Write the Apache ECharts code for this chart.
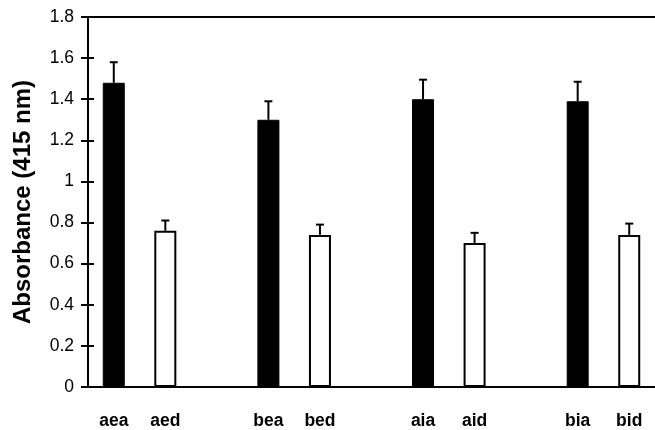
<!DOCTYPE html>
<html>
<head>
<meta charset="utf-8">
<script src="https://cdn.jsdelivr.net/npm/echarts@6/dist/echarts.min.js"></script>
<style>
  html, body { margin: 0; padding: 0; background: #fff; }
  #chart { width: 655px; height: 430px; }
</style>
</head>
<body>
<div id="chart"></div>
<script>
// Sample groups; blank slots separate the pairs
const categories = ['aea', 'aed', ' ', 'bea', 'bed', '  ', 'aia', 'aid', '   ', 'bia', 'bid'];
// Mean absorbance at 415 nm (null = empty slot)
const absorbance = [1.48, 0.76, null, 1.30, 0.74, null, 1.40, 0.70, null, 1.39, 0.74];
// Upper error (standard deviation)
const errorUp = [0.10, 0.05, null, 0.09, 0.05, null, 0.095, 0.05, null, 0.095, 0.055];
// Which bars are filled (true) or open (false)
const filled = [true, false, null, true, false, null, true, false, null, true, false];
const yTicks = { min: 0, max: 1.8, step: 0.2 };

const FONT = '"Liberation Sans", Arial, sans-serif';

const barData = absorbance.map((v, i) => {
  if (v === null) return null;
  return {
    value: v,
    itemStyle: filled[i]
      ? { color: '#000', borderColor: '#000', borderWidth: 1 }
      : { color: '#fff', borderColor: '#000', borderWidth: 2 }
  };
});

const errData = absorbance.map((v, i) => (v === null ? null : [i, v, v + errorUp[i]]))
  .filter(d => d !== null);

const chart = echarts.init(document.getElementById('chart'), null, { renderer: 'canvas' });

chart.setOption({
  backgroundColor: '#fff',
  animation: false,
  grid: { left: 88, top: 17, width: 575, height: 372, containLabel: false },
  xAxis: [
    {
      type: 'category',
      data: categories,
      position: 'bottom',
      axisLine: { show: true, onZero: false, lineStyle: { color: '#000', width: 2 } },
      axisTick: { show: false },
      axisLabel: { color: '#000', fontFamily: FONT, fontWeight: 'bold', fontSize: 17.5, margin: 25 }
    },
    {
      // frame line along the top of the plot
      type: 'category',
      data: categories,
      position: 'top',
      axisLine: { show: true, onZero: false, lineStyle: { color: '#000', width: 2 } },
      axisTick: { show: false },
      axisLabel: { show: false }
    }
  ],
  yAxis: [
    {
      type: 'value',
      min: yTicks.min, max: yTicks.max, interval: yTicks.step,
      name: 'Absorbance (415 nm)',
      nameLocation: 'middle',
      nameGap: 53,
      nameTextStyle: { color: '#000', fontFamily: FONT, fontWeight: 'bold', fontSize: 24 },
      axisLine: { show: true, lineStyle: { color: '#000', width: 2 } },
      axisTick: { show: true, inside: false, length: 7, lineStyle: { color: '#000', width: 2 } },
      axisLabel: { color: '#000', fontFamily: FONT, fontSize: 17.5, margin: 14 },
      splitLine: { show: false }
    },
    {
      // inner half of the crossing tick marks
      type: 'value',
      position: 'left',
      min: yTicks.min, max: yTicks.max, interval: yTicks.step,
      axisLine: { show: false },
      axisTick: { show: true, inside: true, length: 6, lineStyle: { color: '#000', width: 2 } },
      axisLabel: { show: false },
      splitLine: { show: false }
    }
  ],
  series: [
    {
      type: 'bar',
      xAxisIndex: 0,
      yAxisIndex: 0,
      barWidth: 22,
      data: barData,
      z: 2
    },
    {
      type: 'custom',
      xAxisIndex: 0,
      yAxisIndex: 0,
      data: errData,
      z: 3,
      renderItem: function (params, api) {
        const idx = api.value(0);
        const base = api.coord([idx, api.value(1)]);
        const top = api.coord([idx, api.value(2)]);
        const half = 4;
        const style = { stroke: '#000', lineWidth: 2, fill: null };
        return {
          type: 'group',
          children: [
            { type: 'line', shape: { x1: base[0], y1: base[1], x2: top[0], y2: top[1] }, style: style },
            { type: 'line', shape: { x1: top[0] - half, y1: top[1], x2: top[0] + half, y2: top[1] }, style: style }
          ]
        };
      }
    }
  ]
});
</script>
</body>
</html>
